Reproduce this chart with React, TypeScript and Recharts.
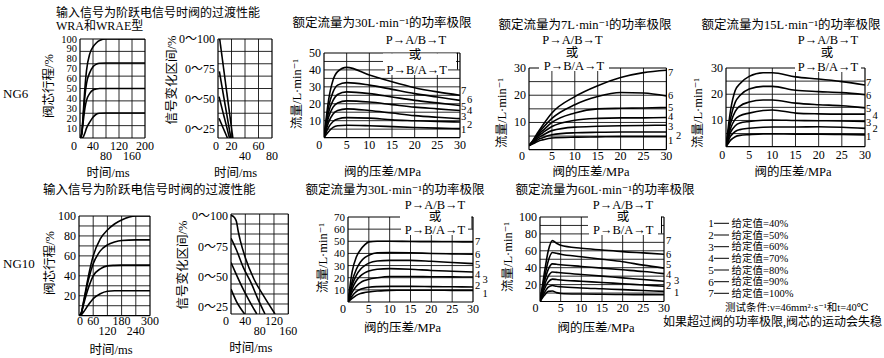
import { LineChart, Line, XAxis, YAxis, ReferenceLine } from 'recharts'

const SERIF = "'Liberation Serif', 'Times New Roman', 'DejaVu Serif', 'Noto Sans CJK SC', serif"

// NG6 step response: valve stroke (%), time in ms
const ng6Time = [0, 5, 10, 15, 20, 30, 40, 50, 60, 80, 120, 200]
const ng6Stroke = [
  [0, 0, 1, 5, 10, 16, 21, 24, 25, 25.3, 25.3, 25.3],
  [0, 4, 17, 30, 38, 45, 48.5, 49.5, 50, 50, 50, 50],
  [0, 4, 22, 42, 55, 66, 72, 74.5, 75.5, 75.8, 75.8, 75.8],
  [0, 3, 25, 50, 68, 85, 92, 96, 98.5, 100, 100, 100],
]
const ng6StrokeTicks = [0, 40, 80, 120, 160, 200]

// NG6 signal change range
const ng6SignalT = [[1.5, 14], [1.5, 17], [2, 19], [2.5, 22]]
const ng6SignalV = [[34, 17.5], [52, 17.5], [73, 17.5], [100, 17.5]]
const ng6SignalTicks = [0, 20, 40, 60, 80]
const signalLevels = [25, 50, 75, 100]

// pressure drop (MPa) ticks
const dpTicks = [0, 5, 10, 15, 20, 25, 30]

// NG6 30 L/min, curves 1..7
const ng6Dp30 = [0, 1, 2, 3, 5, 10, 15, 20, 25, 30]
const ng6Q30 = [
  [0, 3.5, 6, 7, 7.3, 7, 6.5, 6, 5.6, 5.3],
  [0, 6, 9.5, 11, 11.8, 11.5, 10.5, 10, 9.5, 9.2],
  [0, 9, 14, 16, 17, 16, 14.5, 13, 12, 11.2],
  [0, 12, 18, 20.5, 21.7, 21, 19.5, 18, 17, 16],
  [0, 15, 22, 25.5, 27, 26, 24, 22, 20.5, 19],
  [0, 18, 27, 31, 32.5, 31, 28.5, 26, 24, 22],
  [0, 22, 34, 39, 41.5, 37, 33, 29.5, 27, 25],
]

// NG6 7 L/min
const ng6Dp7 = [0, 1, 2, 3, 5, 10, 15, 20, 25, 30]
const ng6Q7 = [
  [1.5, 2.3, 3.1, 3.6, 4.3, 4.6, 4.7, 4.8, 4.8, 4.8],
  [1.5, 2.6, 3.7, 4.4, 5.5, 6.2, 6.4, 6.5, 6.5, 6.5],
  [1.5, 2.8, 4.3, 5.3, 7, 8.3, 8.6, 8.8, 8.9, 9],
  [1.5, 3.1, 5, 6.2, 8.5, 10.8, 11.5, 11.7, 11.7, 11.8],
  [1.5, 3.3, 5.5, 7, 10, 13.5, 15, 15.2, 15.3, 15.5],
  [1.5, 3.6, 6, 8, 11.5, 16.5, 19.5, 21, 20.8, 19.7],
  [1.5, 3.8, 6.5, 9, 13.5, 19.5, 23.5, 26.5, 28.3, 29.2],
]

// NG6 15 L/min
const ng6Dp15 = [0, 1, 2, 3, 5, 8, 10, 15, 20, 25, 30]
const ng6Q15 = [
  [0, 2.5, 3.8, 4.3, 4.6, 4.9, 4.9, 4.8, 4.8, 4.7, 4.5],
  [0, 4, 5.8, 6.5, 7, 7.4, 7.5, 7.5, 7.6, 7.4, 7],
  [0, 5.5, 8, 9, 9.6, 10.1, 10.2, 10, 9.9, 9.8, 9.6],
  [0, 7, 10.5, 11.8, 12.8, 13.8, 14, 12.8, 12.5, 12.4, 12.4],
  [0, 9, 13.5, 15.5, 17, 17.8, 17.8, 16.6, 16, 15.6, 14.8],
  [0, 11, 17, 19.5, 22, 23, 23, 21.5, 21, 20.6, 19.8],
  [0, 14, 21.5, 24, 26.8, 28.2, 28.2, 26.6, 25.8, 24.8, 23.5],
]

// NG10 step response
const ng10Time = [0, 10, 20, 40, 60, 90, 120, 150, 180, 240, 300]
const ng10Stroke = [
  [0, 1, 4, 11, 17, 22, 24.5, 25, 25, 25, 25],
  [0, 3, 12, 28, 40, 47, 50, 50.5, 50.7, 50.7, 50.7],
  [0, 3, 14, 36, 52, 65, 71, 74, 75.5, 76, 76],
  [0, 3, 15, 40, 60, 77, 86, 92, 96, 100, 100],
]
const ng10StrokeTicks = [0, 60, 120, 180, 240, 300]

const ng10SignalT = [[0, 15, 27, 38], [0, 15, 34, 50, 72], [0, 5, 15, 35, 58, 75, 95], [0, 10, 15, 20, 26, 40, 63, 92, 123]]
const ng10SignalV = [[40, 30, 24, 19.5], [62, 52, 40, 31, 19.5], [82, 79, 72.5, 57.5, 44, 32, 19.5], [101, 99, 96, 88, 80, 66, 49, 34, 19.5]]
const ng10SignalTicks = [0, 40, 80, 120, 160]

// NG10 30 L/min
const ng10Dp30 = [0, 1, 2, 3, 4, 5, 7, 10, 15, 20, 25, 30]
const ng10Q30 = [
  [0, 3, 5.5, 7, 7.8, 8.3, 9, 9.6, 9.7, 9.7, 9.6, 9.6],
  [0, 5, 8.5, 10.5, 11.5, 12.2, 12.7, 12.9, 12.9, 12.7, 12.5, 12.4],
  [0, 8, 13, 16, 17.7, 18.8, 20, 21, 21, 20.8, 20.7, 20.6],
  [0, 11, 17.5, 21.5, 24, 25.5, 27, 27.5, 27, 26, 25.3, 24.7],
  [0, 14, 22, 27, 30, 32, 33.8, 34.3, 34.3, 33.5, 32.5, 31.6],
  [0, 17, 27, 33, 36.5, 38.5, 40.5, 40.7, 40.5, 40, 39.6, 39.3],
  [0, 25, 37, 43, 47, 49.5, 50, 50, 49.8, 49.7, 49.6, 49.5],
]

// NG10 60 L/min
const ng10Dp60 = [0, 1, 2, 3, 4, 5, 10, 15, 20, 25, 30]
const ng10Q60 = [
  [0, 7, 12, 12.5, 10.5, 9.5, 8.8, 8.5, 8.3, 8.1, 8],
  [0, 10, 17, 19, 18, 17.5, 16, 15, 14, 13, 12],
  [0, 14, 23, 26.5, 26, 25.5, 24, 22.5, 21, 19.5, 18],
  [0, 18, 30, 35, 34.5, 34, 32, 30, 28, 26, 24],
  [0, 22, 38, 44.5, 44, 43.5, 41.5, 39.5, 37.5, 35.5, 33],
  [0, 26, 48, 58, 57, 56, 53, 50, 47, 43, 39.5],
  [0, 32, 60, 72, 69, 66.5, 63, 61, 59, 57.5, 56],
]

const setpoints = [40, 50, 60, 70, 80, 90, 100]

type Pt = { x: number; y: number }
const toPts = (xs: number[], ys: number[]): Pt[] => xs.map((x, i) => ({ x, y: ys[i] }))
const steps = (lo: number, hi: number, s: number) => {
  const r: number[] = []
  for (let v = lo + s; v < hi - 1e-6; v += s) r.push(v)
  return r
}
const even = (lo: number, hi: number, n: number) =>
  Array.from({ length: n - 1 }, (_, i) => lo + ((hi - lo) * (i + 1)) / n)

const MT = 12
const MR = 22
const YW = 50
const XH = 30

type PanelProps = {
  box: [number, number, number, number]
  xDomain: [number, number]
  yDomain: [number, number]
  xTicks: number[]
  yTicks: number[]
  xGrid: number[]
  yGrid: number[]
  low?: number[]
  zeroDx?: number
  tickDy?: number
  ySize?: number
  yFmt?: (v: number) => string
  linear?: boolean
  curves: Pt[][]
}

function Panel({ box, xDomain, yDomain, xTicks, yTicks, xGrid, yGrid, low = [], zeroDx = -4, tickDy = 7.5, ySize = 12, yFmt, linear, curves }: PanelProps) {
  const [bx, by, bw, bh] = box
  const bottom = MT + bh
  const xTick = (props: any) => {
    const v = props.payload.value
    return (
      <text x={props.x + (v === 0 ? zeroDx : 0)} y={bottom + tickDy + (low.includes(v) ? 10 : 0)} textAnchor="middle" dominantBaseline="central" fontFamily={SERIF} fontSize={12} fill="#000">
        {v}
      </text>
    )
  }
  const yTick = (props: any) => {
    const v = props.payload.value
    return (
      <text x={YW - 3} y={props.y} textAnchor="end" dominantBaseline="central" fontFamily={SERIF} fontSize={ySize} fill="#000">
        {yFmt ? yFmt(v) : v}
      </text>
    )
  }
  return (
    <div style={{ position: 'absolute', left: bx - YW, top: by - MT }}>
      <LineChart width={bw + YW + MR} height={bh + MT + XH} margin={{ top: MT, right: MR, bottom: 0, left: 0 }} style={{ overflow: 'visible' }}>
        <XAxis type="number" dataKey="x" domain={xDomain} ticks={xTicks} interval={0} allowDataOverflow tick={xTick} tickLine={false} axisLine={{ stroke: '#000', strokeWidth: 1.2 }} height={XH} />
        <YAxis type="number" domain={yDomain} ticks={yTicks} interval={0} allowDataOverflow tick={yTick} tickLine={false} axisLine={{ stroke: '#000', strokeWidth: 1.2 }} width={YW} />
        {xGrid.map((v) => (
          <ReferenceLine key={'gx' + v} x={v} stroke="#111" strokeWidth={0.9} />
        ))}
        {yGrid.map((v) => (
          <ReferenceLine key={'gy' + v} y={v} stroke="#111" strokeWidth={0.9} />
        ))}
        <ReferenceLine x={xDomain[1]} stroke="#000" strokeWidth={1.2} />
        <ReferenceLine y={yDomain[1]} stroke="#000" strokeWidth={1.2} />
        {curves.map((c, i) => (
          <Line key={i} data={c} dataKey="y" type={linear ? 'linear' : 'monotone'} stroke="#000" strokeWidth={1.6} dot={false} isAnimationActive={false} />
        ))}
      </LineChart>
    </div>
  )
}

function Txt({ x, y, children, size = 12.5, anchor = 'middle', rot = false }: { x: number; y: number; children: any; size?: number; anchor?: 'start' | 'middle' | 'end'; rot?: boolean }) {
  return (
    <text x={x} y={y} fontSize={size} textAnchor={anchor} dominantBaseline="central" fontFamily={SERIF} fill="#000" transform={rot ? `rotate(-90 ${x} ${y})` : undefined}>
      {children}
    </text>
  )
}

// curve number labels: [number, x, y]
const nums3 = [[7, 461, 90.7], [6, 467, 99.3], [5, 461, 106], [4, 467, 110], [3, 461, 116.7], [2, 467, 124], [1, 461, 129.3]]
const nums4 = [[7, 668, 72.7], [6, 668, 95], [5, 668, 107.3], [4, 668, 116.7], [3, 668, 126.7], [2, 676, 135], [1, 668, 140.7]]
const nums5 = [[7, 866, 82.7], [6, 866, 95], [5, 866, 108.3], [4, 872.5, 115], [3, 866, 122.7], [2, 872.5, 128.3], [1, 866, 136.7]]
const nums8 = [[7, 475, 241.7], [6, 475, 254], [5, 475, 264.3], [4, 475, 274.3], [3, 482.5, 279], [2, 475, 285.7], [1, 482.5, 293.3]]
const nums9 = [[7, 666, 240], [6, 666, 254], [5, 666, 264.3], [4, 666, 274.3], [3, 674, 280], [2, 666, 285], [1, 674, 292.3]]
const legendY = [223.3, 235, 246.7, 258.3, 270, 281.7, 293.3]

export default function App() {
  const fmtSig = (v: number) => `0～${v}`
  return (
    <div style={{ position: 'absolute', left: 0, top: 0, width: 884, height: 358, background: '#fff', overflow: 'hidden' }}>
      <Panel box={[80, 39.3, 65, 99]} xDomain={[0, 200]} yDomain={[0, 100]} xTicks={ng6StrokeTicks} yTicks={steps(0, 110, 10)} xGrid={[40, 80, 120, 160]} yGrid={steps(0, 100, 12.5)} low={[80, 160]} zeroDx={-6} tickDy={8.4} ySize={10.5}
        curves={ng6Stroke.map((s) => toPts(ng6Time, s))} />
      <Panel box={[217.7, 39.3, 54, 99]} xDomain={[0, 80]} yDomain={[17.5, 100]} xTicks={ng6SignalTicks} yTicks={signalLevels} yFmt={fmtSig} xGrid={[20, 40, 60]} yGrid={even(17.5, 100, 8)} low={[40, 80]} zeroDx={-2} tickDy={8.4} linear
        curves={ng6SignalT.map((t, i) => toPts(t, ng6SignalV[i]))} />
      <Panel box={[324, 52.7, 136, 84.6]} xDomain={[0, 30]} yDomain={[0, 50]} xTicks={dpTicks} yTicks={[10, 20, 30, 40, 50]} xGrid={steps(0, 30, 5)} yGrid={steps(0, 50, 5)} zeroDx={-4.7} tickDy={7.7}
        curves={ng6Q30.map((s) => toPts(ng6Dp30, s))} />
      <Panel box={[529.3, 68.3, 137.4, 81.7]} xDomain={[0, 30]} yDomain={[0, 30]} xTicks={dpTicks} yTicks={[10, 20, 30]} xGrid={steps(0, 30, 5)} yGrid={steps(0, 30, 5)} zeroDx={-7} tickDy={6.7}
        curves={ng6Q7.map((s) => toPts(ng6Dp7, s))} />
      <Panel box={[726, 68.3, 139, 78.7]} xDomain={[0, 30]} yDomain={[0, 30]} xTicks={dpTicks} yTicks={[10, 20, 30]} xGrid={steps(0, 30, 5)} yGrid={steps(0, 30, 5)} zeroDx={-3.7} tickDy={8}
        curves={ng6Q15.map((s) => toPts(ng6Dp15, s))} />
      <Panel box={[79, 216.3, 71, 99.7]} xDomain={[0, 300]} yDomain={[0, 100]} xTicks={ng10StrokeTicks} yTicks={[20, 40, 60, 80, 100]} xGrid={[60, 120, 180, 240]} yGrid={steps(0, 100, 10)} low={[120, 240]} zeroDx={1} tickDy={5.7}
        curves={ng10Stroke.map((s) => toPts(ng10Time, s))} />
      <Panel box={[231, 214.3, 57.3, 100]} xDomain={[0, 160]} yDomain={[19.5, 102]} xTicks={ng10SignalTicks} yTicks={signalLevels} yFmt={fmtSig} xGrid={[40, 80, 120]} yGrid={even(19.5, 102, 10)} low={[80, 160]} zeroDx={-5} tickDy={7.4}
        curves={ng10SignalT.map((t, i) => toPts(t, ng10SignalV[i]))} />
      <Panel box={[348.3, 216.7, 125, 85]} xDomain={[0, 30]} yDomain={[0, 70]} xTicks={dpTicks} yTicks={[10, 20, 30, 40, 50, 60, 70]} xGrid={steps(0, 30, 5)} yGrid={steps(0, 70, 10)} zeroDx={-5} tickDy={6.6} ySize={11}
        curves={ng10Q30.map((s) => toPts(ng10Dp30, s))} />
      <Panel box={[539.5, 216.7, 124, 84.5]} xDomain={[0, 30]} yDomain={[0, 100]} xTicks={dpTicks} yTicks={[20, 40, 60, 80, 100]} xGrid={steps(0, 30, 5)} yGrid={steps(0, 100, 10)} zeroDx={-4.5} tickDy={6.6}
        curves={ng10Q60.map((s) => toPts(ng10Dp60, s))} />

      <svg width={884} height={358} style={{ position: 'absolute', left: 0, top: 0, pointerEvents: 'none' }}>
        <rect x={383} y={53.5} width={73} height={15.5} fill="#fff" />
        <rect x={385} y={64.5} width={63} height={10.5} fill="#fff" />
        <rect x={539} y={60} width={70} height={11} fill="#fff" />
        <rect x={795} y={61} width={66} height={11} fill="#fff" />
        <rect x={400} y={209.5} width={71.5} height={18.5} fill="#fff" />
        <rect x={401} y={224.5} width={67} height={10.5} fill="#fff" />
        <rect x={588} y={209.5} width={73} height={22} fill="#fff" />
        <rect x={589} y={225} width={69} height={10} fill="#fff" />
        <line x1={457.5} y1={52.7} x2={457.5} y2={69.6} stroke="#000" strokeWidth={1} />
        <line x1={472} y1={216.7} x2={472} y2={228.8} stroke="#000" strokeWidth={1} />
        <line x1={661.5} y1={216.7} x2={661.5} y2={233.6} stroke="#000" strokeWidth={1} />

        <Txt x={56} y={12.5} anchor="start" size={12}>输入信号为阶跃电信号时阀的过渡性能</Txt>
        <Txt x={56} y={25.5} anchor="start" size={12}>WRA和WRAE型</Txt>
        <Txt x={3} y={93} anchor="start" size={13}>NG6</Txt>
        <Txt x={49} y={86} rot>阀芯行程/%</Txt>
        <Txt x={108} y={173}>时间/ms</Txt>
        <Txt x={172} y={80} rot>信号变化区间/%</Txt>
        <Txt x={235.5} y={173}>时间/ms</Txt>

        <Txt x={382} y={23.3}>额定流量为30L·min⁻¹的功率极限</Txt>
        <Txt x={416} y={40}>P→A/B→T</Txt>
        <Txt x={415} y={55}>或</Txt>
        <Txt x={416.7} y={70}>P→B/A→T</Txt>
        <Txt x={297} y={94} rot>流量/L·min⁻¹</Txt>
        <Txt x={382.5} y={172.3}>阀的压差/MPa</Txt>

        <Txt x={585} y={25}>额定流量为7L·min⁻¹的功率极限</Txt>
        <Txt x={572.5} y={40}>P→A/B→T</Txt>
        <Txt x={572} y={52.7}>或</Txt>
        <Txt x={574} y={65.7}>P→B/A→T</Txt>
        <Txt x={502} y={113} rot>流量/L·min⁻¹</Txt>
        <Txt x={591} y={171.7}>阀的压差/MPa</Txt>

        <Txt x={791} y={25}>额定流量为15L·min⁻¹的功率极限</Txt>
        <Txt x={828} y={40}>P→A/B→T</Txt>
        <Txt x={827} y={53.3}>或</Txt>
        <Txt x={828} y={66.7}>P→B/A→T</Txt>
        <Txt x={698.3} y={113} rot>流量/L·min⁻¹</Txt>
        <Txt x={793} y={171.7}>阀的压差/MPa</Txt>

        <Txt x={43} y={190} anchor="start">输入信号为阶跃电信号时阀的过渡性能</Txt>
        <Txt x={3} y={263} anchor="start" size={13}>NG10</Txt>
        <Txt x={50} y={263} rot>阀芯行程/%</Txt>
        <Txt x={111} y={350}>时间/ms</Txt>
        <Txt x={183.3} y={265} rot>信号变化区间/%</Txt>
        <Txt x={250.8} y={348.3}>时间/ms</Txt>

        <Txt x={395} y={190}>额定流量为30L·min⁻¹的功率极限</Txt>
        <Txt x={435} y={205}>P→A/B→T</Txt>
        <Txt x={435} y={217.3}>或</Txt>
        <Txt x={435} y={230}>P→B/A→T</Txt>
        <Txt x={323.3} y={258} rot>流量/L·min⁻¹</Txt>
        <Txt x={402.5} y={328.3}>阀的压差/MPa</Txt>

        <Txt x={605} y={190}>额定流量为60L·min⁻¹的功率极限</Txt>
        <Txt x={623} y={205}>P→A/B→T</Txt>
        <Txt x={623} y={217.3}>或</Txt>
        <Txt x={623.3} y={230}>P→B/A→T</Txt>
        <Txt x={508.3} y={257} rot>流量/L·min⁻¹</Txt>
        <Txt x={596} y={328.3}>阀的压差/MPa</Txt>

        {[nums3, nums4, nums5, nums8, nums9].map((set, k) =>
          set.map(([n, x, y]) => (
            <Txt key={k + '-' + n} x={x} y={y} anchor="start" size={10.5}>{n}</Txt>
          ))
        )}

        {setpoints.map((v, i) => (
          <g key={'lg' + v}>
            <Txt x={711} y={legendY[i]} size={11}>{i + 1}</Txt>
            <line x1={714} y1={legendY[i]} x2={729} y2={legendY[i]} stroke="#000" strokeWidth={1} />
            <Txt x={731.5} y={legendY[i]} anchor="start" size={10.5}>{`给定值=${v}%`}</Txt>
          </g>
        ))}
        <Txt x={725} y={307.3} anchor="start" size={10.5}>测试条件:ν=46mm²·s⁻¹和t=40℃</Txt>
        <Txt x={882} y={321.7} anchor="end" size={12}>如果超过阀的功率极限,阀芯的运动会失稳</Txt>
      </svg>
    </div>
  )
}
